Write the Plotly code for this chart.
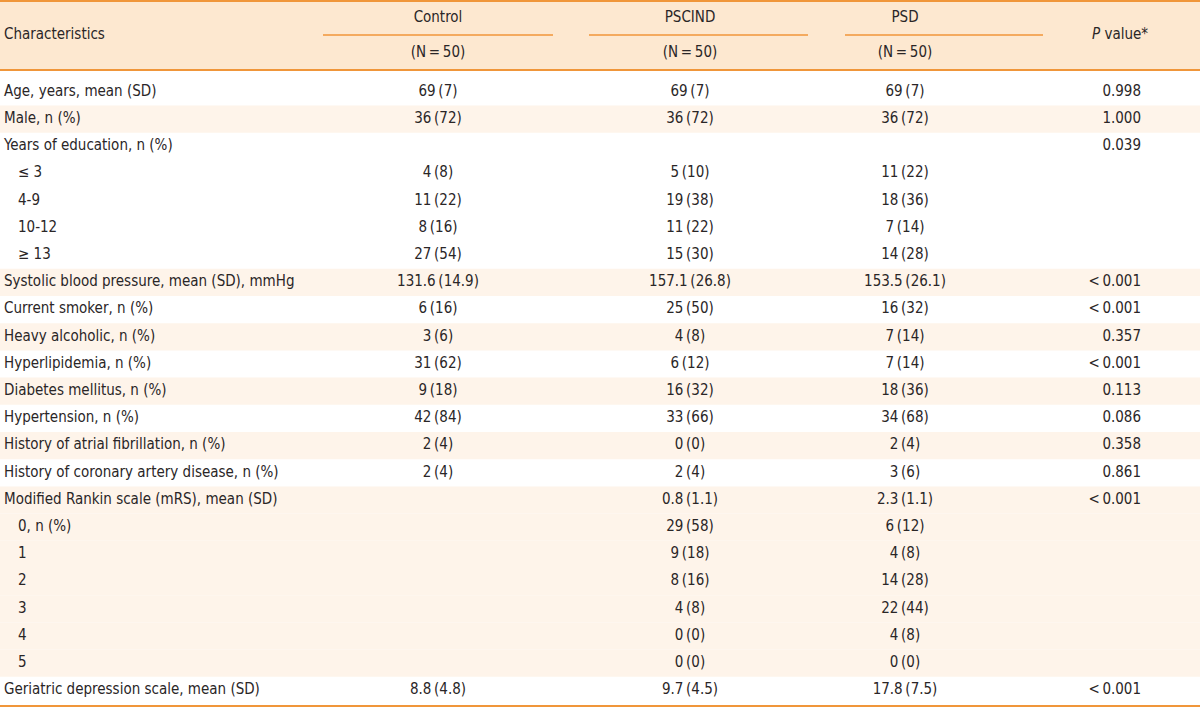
import plotly.graph_objects as go

# ---- table content -------------------------------------------------------
characteristics = [
    "Age, years, mean (SD)", "Male, n (%)", "Years of education, n (%)",
    "≤ 3", "4-9", "10-12", "≥ 13",
    "Systolic blood pressure, mean (SD), mmHg", "Current smoker, n (%)",
    "Heavy alcoholic, n (%)", "Hyperlipidemia, n (%)", "Diabetes mellitus, n (%)",
    "Hypertension, n (%)", "History of atrial fibrillation, n (%)",
    "History of coronary artery disease, n (%)",
    "Modified Rankin scale (mRS), mean (SD)",
    "0, n (%)", "1", "2", "3", "4", "5",
    "Geriatric depression scale, mean (SD)",
]
is_sub = [False, False, False, True, True, True, True, False, False, False, False,
          False, False, False, False, False, True, True, True, True, True, True, False]
row_group = [0, 1, 2, 2, 2, 2, 2, 3, 4, 5, 6, 7, 8, 9, 10, 11, 11, 11, 11, 11, 11, 11, 12]

control = ["69 (7)", "36 (72)", "", "4 (8)", "11 (22)", "8 (16)", "27 (54)",
           "131.6 (14.9)", "6 (16)", "3 (6)", "31 (62)", "9 (18)", "42 (84)",
           "2 (4)", "2 (4)", "", "", "", "", "", "", "", "8.8 (4.8)"]
pscind = ["69 (7)", "36 (72)", "", "5 (10)", "19 (38)", "11 (22)", "15 (30)",
          "157.1 (26.8)", "25 (50)", "4 (8)", "6 (12)", "16 (32)", "33 (66)",
          "0 (0)", "2 (4)", "0.8 (1.1)", "29 (58)", "9 (18)", "8 (16)", "4 (8)",
          "0 (0)", "0 (0)", "9.7 (4.5)"]
psd = ["69 (7)", "36 (72)", "", "11 (22)", "18 (36)", "7 (14)", "14 (28)",
       "153.5 (26.1)", "16 (32)", "7 (14)", "7 (14)", "18 (36)", "34 (68)",
       "2 (4)", "3 (6)", "2.3 (1.1)", "6 (12)", "4 (8)", "14 (28)", "22 (44)",
       "4 (8)", "0 (0)", "17.8 (7.5)"]
p_value = ["0.998", "1.000", "0.039", "", "", "", "", "< 0.001", "< 0.001", "0.357",
           "< 0.001", "0.113", "0.086", "0.358", "0.861", "< 0.001",
           "", "", "", "", "", "", "< 0.001"]

groups = ["Control", "PSCIND", "PSD"]
group_n = ["(N = 50)", "(N = 50)", "(N = 50)"]

# ---- styling ---------------------------------------------------------------
W, H = 1200, 715
FONT = "Liberation Sans Narrow, DejaVu Sans Condensed, Arial Narrow, Roboto, sans-serif"
TXT = "#2A2627"
ORANGE = "#F0963A"
HEAD_FILL = "#FDE8D0"
ROW_FILL = "#FEF4EA"

HEAD_BOTTOM = 70
ROW0 = 78.4
PITCH = 27.2
col_x = [438, 690, 905]
col_line = [(323, 553), (589, 808), (845, 1043)]
P_RIGHT = 1141


def tight(vals):
    # numbers in the source use thin spaces
    return [v.replace(" ", "\u2009") for v in vals]


ys = [ROW0 + PITCH * (i + 0.5) for i in range(len(characteristics))]

fig = go.Figure()
shapes = []

# header band
shapes.append(dict(type="rect", x0=0, x1=W, y0=0, y1=HEAD_BOTTOM,
                   fillcolor=HEAD_FILL, line_width=0, layer="below"))
# shaded row groups
for i, g in enumerate(row_group):
    if g % 2 == 1:
        top = HEAD_BOTTOM if i == 0 else ROW0 + PITCH * i
        shapes.append(dict(type="rect", x0=0, x1=W, y0=top, y1=ROW0 + PITCH * (i + 1),
                           fillcolor=ROW_FILL, line_width=0, layer="below"))

bottom = ROW0 + PITCH * len(characteristics) + 2
for y, w in [(1, 2), (HEAD_BOTTOM, 2), (bottom, 2)]:
    shapes.append(dict(type="line", x0=0, x1=W, y0=y, y1=y,
                       line=dict(color=ORANGE, width=w)))
for x0, x1 in col_line:
    shapes.append(dict(type="line", x0=x0, x1=x1, y0=35, y1=35,
                       line=dict(color=ORANGE, width=1.5)))

tf = dict(family=FONT, size=15, color=TXT)

# header text
fig.add_trace(go.Scatter(x=[4], y=[35], text=["Characteristics"], mode="text",
                         textposition="middle right", textfont=tf, hoverinfo="skip"))
fig.add_trace(go.Scatter(x=col_x, y=[18] * 3, text=groups, mode="text",
                         textposition="middle center", textfont=tf, hoverinfo="skip"))
fig.add_trace(go.Scatter(x=col_x, y=[53] * 3, text=tight(group_n), mode="text",
                         textposition="middle center", textfont=tf, hoverinfo="skip"))
fig.add_trace(go.Scatter(x=[1120], y=[35], text=["<i>P</i> value*"], mode="text",
                         textposition="middle center", textfont=tf, hoverinfo="skip"))

# body
fig.add_trace(go.Scatter(x=[18 if s else 4 for s in is_sub], y=ys, text=characteristics,
                         mode="text", textposition="middle right", textfont=tf,
                         hoverinfo="skip"))
for cx, vals in zip(col_x, [control, pscind, psd]):
    fig.add_trace(go.Scatter(x=[cx] * len(vals), y=ys, text=tight(vals), mode="text",
                             textposition="middle center", textfont=tf, hoverinfo="skip"))
fig.add_trace(go.Scatter(x=[P_RIGHT] * len(p_value), y=ys, text=tight(p_value),
                         mode="text", textposition="middle left", textfont=tf,
                         hoverinfo="skip"))

fig.update_layout(
    width=W, height=H,
    margin=dict(l=0, r=0, t=0, b=0),
    paper_bgcolor="white", plot_bgcolor="white",
    showlegend=False,
    shapes=shapes,
    xaxis=dict(range=[0, W], visible=False, fixedrange=True),
    yaxis=dict(range=[H, 0], visible=False, fixedrange=True),
)

# the page body has a default 8px margin; drop it so the table sits at 0,0
fig.write_html("out.html", config={"displayModeBar": False},
               post_script="document.body.style.margin = '0';")
